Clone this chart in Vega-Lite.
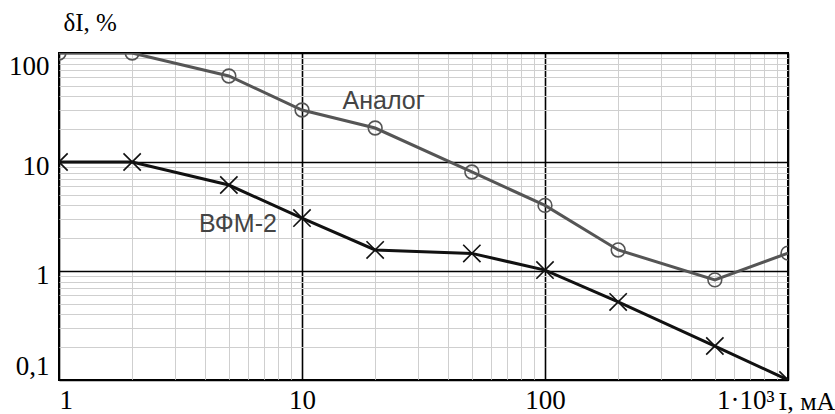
{
  "$schema": "https://vega.github.io/schema/vega-lite/v6.json",
  "width": 729,
  "height": 327,
  "autosize": {"type": "none"},
  "padding": {"left": 59, "top": 53, "right": 47, "bottom": 34},
  "background": "white",
  "config": {
    "view": {"stroke": "black", "strokeWidth": 2}
  },
  "datasets": {
    "curves": [
      {"series": "Аналог", "I": 1, "dI": 100},
      {"series": "Аналог", "I": 2, "dI": 100},
      {"series": "Аналог", "I": 5, "dI": 61.5},
      {"series": "Аналог", "I": 10, "dI": 30},
      {"series": "Аналог", "I": 20, "dI": 20.5},
      {"series": "Аналог", "I": 50, "dI": 8.1},
      {"series": "Аналог", "I": 100, "dI": 4.0},
      {"series": "Аналог", "I": 200, "dI": 1.56},
      {"series": "Аналог", "I": 500, "dI": 0.83},
      {"series": "Аналог", "I": 1000, "dI": 1.46},
      {"series": "ВФМ-2", "I": 1, "dI": 10},
      {"series": "ВФМ-2", "I": 2, "dI": 10},
      {"series": "ВФМ-2", "I": 5, "dI": 6.15},
      {"series": "ВФМ-2", "I": 10, "dI": 3.06},
      {"series": "ВФМ-2", "I": 20, "dI": 1.56},
      {"series": "ВФМ-2", "I": 50, "dI": 1.45},
      {"series": "ВФМ-2", "I": 100, "dI": 1.02},
      {"series": "ВФМ-2", "I": 200, "dI": 0.52},
      {"series": "ВФМ-2", "I": 500, "dI": 0.205},
      {"series": "ВФМ-2", "I": 1000, "dI": 0.1}
    ],
    "labels": [
      {"series": "Аналог", "I": 21.7, "dI": 36},
      {"series": "ВФМ-2", "I": 5.45, "dI": 2.7}
    ]
  },
  "layer": [
    {
      "data": {"name": "curves"},
      "mark": {"type": "line", "strokeWidth": 3, "clip": true},
      "encoding": {
        "x": {
          "field": "I", "type": "quantitative",
          "scale": {"type": "log", "domain": [1, 1000], "nice": false},
          "axis": {
            "values": [1,2,3,4,5,6,7,8,9,10,20,30,40,50,60,70,80,90,100,200,300,400,500,600,700,800,900,1000],
            "grid": true,
            "ticks": false,
            "domain": false,
            "labelOverlap": false,
            "labelFlush": true,
            "labelFont": "Liberation Serif",
            "labelFontSize": 27,
            "labelColor": "black",
            "labelOffset": {"condition": {"test": "datum.value == 1000", "value": -14}, "value": 0},
            "gridColor": {"condition": {"test": "indexof([1,10,100,1000], datum.value) >= 0", "value": "black"}, "value": "#cfcfcf"},
            "gridWidth": {"condition": {"test": "indexof([1,10,100,1000], datum.value) >= 0", "value": 1.6}, "value": 1},
            "labelExpr": "datum.value == 1 ? '1' : datum.value == 10 ? '10' : datum.value == 100 ? '100' : datum.value == 1000 ? '1·10³' : ''",
            "labelPadding": 7,
            "title": "I, мА",
            "titleFont": "Liberation Serif",
            "titleFontSize": 26,
            "titleFontWeight": "normal",
            "titleColor": "black",
            "titleAngle": 0,
            "titleAlign": "left",
            "titleBaseline": "middle",
            "titleX": 719,
            "titleY": 21
          }
        },
        "y": {
          "field": "dI", "type": "quantitative",
          "scale": {"type": "log", "domain": [0.1, 100], "nice": false},
          "axis": {
            "values": [0.1,0.2,0.3,0.4,0.5,0.6,0.7,0.8,0.9,1,2,3,4,5,6,7,8,9,10,20,30,40,50,60,70,80,90,100],
            "grid": true,
            "ticks": false,
            "domain": false,
            "labelOverlap": false,
            "labelFlush": true,
            "labelFont": "Liberation Serif",
            "labelFontSize": 27,
            "labelColor": "black",
            "labelOffset": {"condition": {"test": "datum.value == 1 || datum.value == 10", "value": 4}, "value": 0},
            "gridColor": {"condition": {"test": "indexof([0.1,1,10,100], datum.value) >= 0", "value": "black"}, "value": "#cfcfcf"},
            "gridWidth": {"condition": {"test": "indexof([0.1,1,10,100], datum.value) >= 0", "value": 1.6}, "value": 1},
            "labelExpr": "datum.value == 0.1 ? '0,1' : datum.value == 1 ? '1' : datum.value == 10 ? '10' : datum.value == 100 ? '100' : ''",
            "labelPadding": 10,
            "title": "δI, %",
            "titleFont": "Liberation Serif",
            "titleFontSize": 25,
            "titleFontWeight": "normal",
            "titleColor": "black",
            "titleAngle": 0,
            "titleAlign": "left",
            "titleBaseline": "middle",
            "titleX": 4,
            "titleY": -31
          }
        },
        "color": {
          "field": "series", "type": "nominal",
          "scale": {"domain": ["Аналог", "ВФМ-2"], "range": ["#555555", "#111111"]},
          "legend": null
        }
      }
    },
    {
      "data": {"name": "curves"},
      "mark": {"type": "point", "filled": false, "strokeWidth": 1.6, "clip": true, "opacity": 1},
      "encoding": {
        "x": {"field": "I", "type": "quantitative"},
        "y": {"field": "dI", "type": "quantitative"},
        "shape": {
          "field": "series", "type": "nominal",
          "scale": {"domain": ["Аналог", "ВФМ-2"], "range": ["circle", "M-1,-1L1,1M-1,1L1,-1"]},
          "legend": null
        },
        "size": {
          "field": "series", "type": "nominal",
          "scale": {"domain": ["Аналог", "ВФМ-2"], "range": [190, 300]},
          "legend": null
        },
        "color": {
          "field": "series", "type": "nominal",
          "scale": {"domain": ["Аналог", "ВФМ-2"], "range": ["#555555", "#111111"]},
          "legend": null
        }
      }
    },
    {
      "data": {"name": "labels"},
      "mark": {"type": "text", "font": "Liberation Sans", "fontSize": 25, "align": "center", "baseline": "middle"},
      "encoding": {
        "x": {"field": "I", "type": "quantitative"},
        "y": {"field": "dI", "type": "quantitative"},
        "text": {"field": "series"},
        "color": {"value": "#444444"}
      }
    }
  ]
}
